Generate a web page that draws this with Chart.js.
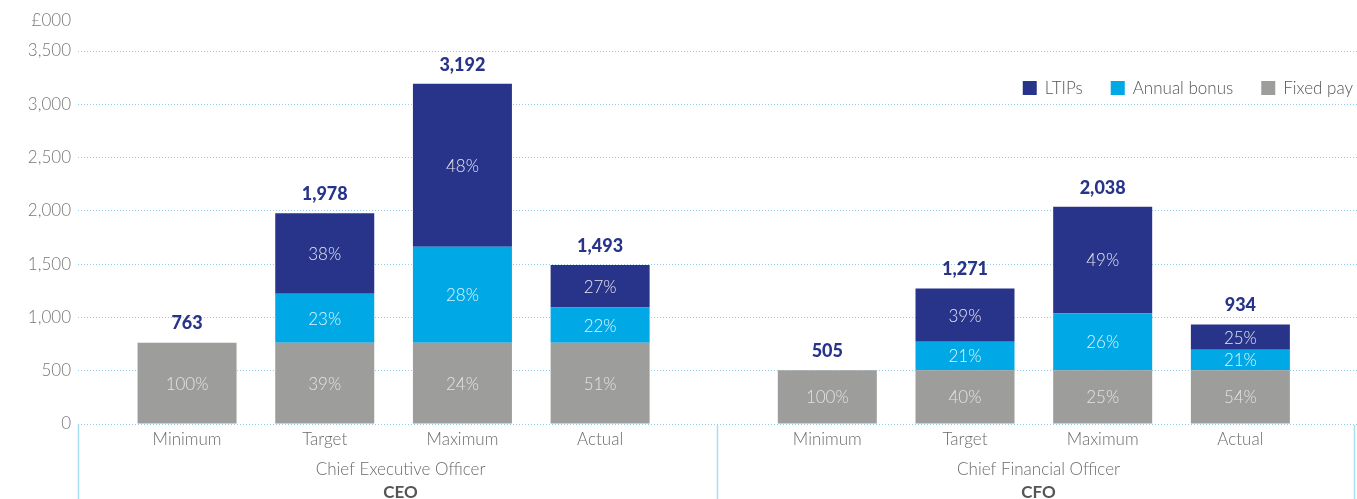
<!DOCTYPE html>
<html>
<head>
<meta charset="utf-8">
<script src="https://cdn.jsdelivr.net/npm/chart.js@4.4.1/dist/chart.umd.min.js"></script>
<style>
  html, body { margin: 0; padding: 0; background: #fff; }
  #wrap { width: 1357px; height: 499px; }
</style>
</head>
<body>
<div id="wrap"><canvas id="payChart"></canvas></div>
<script>
// £000, scenario values per executive
const categories = ["Minimum", "Target", "Maximum", "Actual", "Minimum", "Target", "Maximum", "Actual"];
const roles = ["Chief Executive Officer", "Chief Financial Officer"];
const roleCodes = ["CEO", "CFO"];
const fixedPay = [763, 763, 763, 763, 505, 505, 505, 505];
const annualBonus = [0, 460, 900, 329, 0, 266, 535, 192];
const ltips = [0, 755, 1529, 401, 0, 500, 998, 237];
const yTicks = [0, 500, 1000, 1500, 2000, 2500, 3000, 3500];

const NAVY = "#283489";
const CYAN = "#00a8e6";
const GREY = "#9d9d9b";
const RULE = "#a9dcf3";
const FONT = "Lato, 'Open Sans', sans-serif";

// second executive's bars sit after a wider gap
const GROUP_GAP = 0.65;
const slot = i => i + (i >= 4 ? GROUP_GAP : 0);
const points = arr => arr.map((v, i) => ({ x: slot(i), y: v || null }));
const totals = categories.map((_, i) => fixedPay[i] + annualBonus[i] + ltips[i]);

const segmentLabels = {
  id: "segmentLabels",
  afterDatasetsDraw(chart) {
    const ctx = chart.ctx;
    ctx.save();
    ctx.textAlign = "center";
    ctx.textBaseline = "middle";
    ctx.font = "300 17px " + FONT;
    chart.data.datasets.forEach((ds, d) => {
      const meta = chart.getDatasetMeta(d);
      meta.data.forEach((bar, i) => {
        const v = ds.data[i].y;
        if (!v) return;
        const pct = Math.round(v / totals[i] * 100);
        ctx.fillStyle = d === 0 ? "rgba(240,240,240,0.85)" : "rgba(255,255,255,0.88)";
        ctx.fillText(pct + "%", bar.x, (bar.y + bar.base) / 2 + 1);
      });
    });
    // totals above each stack
    const yScale = chart.scales.y;
    const xScale = chart.scales.x;
    ctx.font = "900 18px " + FONT;
    ctx.fillStyle = NAVY;
    totals.forEach((t, i) => {
      ctx.fillText(t.toLocaleString("en-GB"), xScale.getPixelForValue(slot(i)), yScale.getPixelForValue(t) - 19);
    });
    ctx.restore();
  }
};

const frameAndLegend = {
  id: "frameAndLegend",
  afterDraw(chart) {
    const ctx = chart.ctx;
    const area = chart.chartArea;
    const xScale = chart.scales.x;
    const h = chart.height;
    ctx.save();
    // boxes under the axis for each executive
    const edges = [area.left, xScale.getPixelForValue(slot(3) + 0.85), area.right - 3];
    ctx.strokeStyle = RULE;
    ctx.lineWidth = 1.5;
    edges.forEach(x => {
      ctx.beginPath();
      ctx.moveTo(Math.round(x) + 0.5, area.bottom + 1);
      ctx.lineTo(Math.round(x) + 0.5, h);
      ctx.stroke();
    });
    ctx.textAlign = "center";
    ctx.textBaseline = "middle";
    roles.forEach((r, g) => {
      const cx = (edges[g] + edges[g + 1]) / 2 + 3;
      ctx.fillStyle = "#6b6b6b";
      ctx.font = "300 17px " + FONT;
      ctx.fillText(r, cx, area.bottom + 46);
      ctx.fillStyle = "#555";
      ctx.font = "bold 17px " + FONT;
      ctx.fillText(roleCodes[g], cx, area.bottom + 69);
    });

    // unit label above the value axis
    ctx.textAlign = "right";
    ctx.fillStyle = "#777";
    ctx.font = "300 17px " + FONT;
    ctx.fillText("£000", 71, 21);

    // legend, right aligned inside the plot
    const items = [
      { text: "LTIPs", color: NAVY },
      { text: "Annual bonus", color: CYAN },
      { text: "Fixed pay", color: GREY }
    ];
    ctx.font = "300 17px " + FONT;
    ctx.textAlign = "left";
    const box = 14, gap = 8, spacing = 28, ly = 88;
    let x = area.right - 4;
    const widths = items.map(it => ctx.measureText(it.text).width);
    const starts = [];
    for (let i = items.length - 1; i >= 0; i--) {
      x -= widths[i] + gap + box;
      starts[i] = x;
      x -= spacing;
    }
    items.forEach((it, i) => {
      ctx.fillStyle = it.color;
      ctx.fillRect(starts[i], ly - box / 2, box, box);
      ctx.fillStyle = "#555";
      ctx.fillText(it.text, starts[i] + box + gap, ly + 1);
    });
    ctx.restore();
  }
};

new Chart(document.getElementById("payChart"), {
  type: "bar",
  data: {
    datasets: [
      { label: "Fixed pay", data: points(fixedPay), backgroundColor: GREY },
      { label: "Annual bonus", data: points(annualBonus), backgroundColor: CYAN },
      { label: "LTIPs", data: points(ltips), backgroundColor: NAVY }
    ]
  },
  options: {
    responsive: true,
    maintainAspectRatio: false,
    animation: false,
    barThickness: 99,
    inflateAmount: 0,
    layout: { padding: { top: 51, right: 0, left: 0, bottom: 0 } },
    plugins: { legend: { display: false }, tooltip: { enabled: false } },
    scales: {
      x: {
        type: "linear",
        stacked: true,
        offset: false,
        min: -0.792,
        max: 8.497,
        grid: { display: false },
        border: { display: false },
        afterBuildTicks: s => { s.ticks = categories.map((_, i) => ({ value: slot(i) })); },
        afterFit: s => { s.height = 75; },
        ticks: {
          autoSkip: false,
          maxRotation: 0,
          padding: -3,
          color: "#6b6b6b",
          font: { family: FONT, size: 17, weight: 300 },
          callback: (v, i) => categories[i]
        }
      },
      y: {
        stacked: true,
        min: 0,
        max: 3500,
        afterBuildTicks: s => { s.ticks = yTicks.map(v => ({ value: v })); },
        afterFit: s => { s.width = 78; },
        grid: { color: "#8fd0ee", lineWidth: 1, drawTicks: false },
        border: { display: false, dash: [1, 2] },
        ticks: {
          padding: 7,
          color: "#777",
          font: { family: FONT, size: 17, weight: 300 },
          callback: v => v.toLocaleString("en-GB")
        }
      }
    }
  },
  plugins: [segmentLabels, frameAndLegend]
});
</script>
</body>
</html>
